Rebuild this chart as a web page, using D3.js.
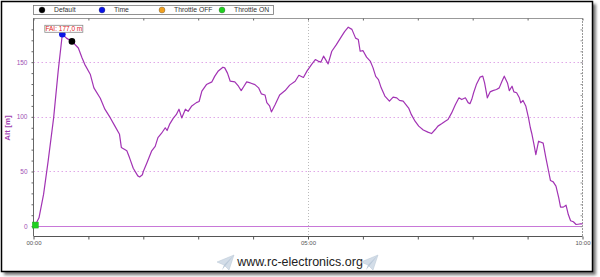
<!DOCTYPE html>
<html lang="en">
  <head>
    <meta charset="UTF-8" />
    <title>Alt</title>
    <style>
      body { margin: 0; background: #fff; }
      text { font-family: "Liberation Sans", Arial, sans-serif; }
    </style>
  </head>
  <body>
    <script src="https://d3js.org/d3.v7.min.js"></script>
    <script>
      // flight log: time [s] and altitude [m]
      const times = [0, 2, 6, 11, 16, 22, 27, 31.5, 36, 42, 49, 53, 56, 62, 66, 73, 78, 84, 89, 94, 96, 102, 105, 109, 114, 116, 119, 120, 124, 129, 133, 136, 140, 144, 146, 149, 153, 156, 159, 162, 166, 169, 173, 178, 181, 184, 189, 195, 198, 202, 207, 209, 212, 215, 220, 224, 227, 230, 233, 237, 242, 246, 249, 253, 255, 258, 260, 264, 269, 275, 280, 286, 290, 295, 299, 304, 308, 311, 314, 317, 322, 326, 331, 337, 340, 344, 348, 352, 355, 357, 360, 364, 368, 371, 374, 377, 380, 384, 389, 393, 397, 400, 404, 410, 413, 417, 421, 426, 431, 435, 439, 442, 446, 450, 453, 457, 461, 465, 468, 472, 475, 477, 479, 481, 484, 488, 491, 493, 496, 499, 502, 506, 509, 512, 514.5, 518, 520, 523, 525, 528, 531, 532.5, 535, 538, 541, 543, 544.5, 547, 549, 552, 554, 557, 560, 563, 565, 568, 571, 574, 576, 579, 582, 584.5, 587, 590, 593, 597, 600];
      const alts = [0, 1, 7.6, 29, 59.5, 99, 142, 175.5, 172, 169, 163, 154, 148, 139, 126.5, 117, 107, 99, 91.5, 84, 72, 69, 62.5, 53, 46, 45, 47, 50, 58, 68.6, 73, 81, 85, 90, 87.5, 93.6, 99, 102, 107, 99, 107, 105, 110, 113, 114, 123.5, 129.5, 132, 137, 142, 145.4, 144.8, 140, 132.6, 132, 128, 124, 128, 132, 131, 129.5, 126.5, 121, 120, 113, 110, 104.5, 111, 120, 124, 129, 132.6, 138, 136, 142, 148, 152.4, 151, 150, 155.5, 148.4, 160, 166, 174, 178, 182, 180, 172, 170.7, 160, 160.6, 154.6, 151, 145, 137, 134, 126.5, 119, 114.3, 118, 117.4, 115, 114.3, 108, 102, 96, 91.5, 88, 86, 84.7, 88.4, 91.5, 93.6, 96, 97.5, 103.6, 111, 117.4, 115.8, 117.4, 113, 112, 116, 122, 129.5, 136.3, 137.2, 131, 117.4, 122.8, 124, 125, 126.5, 132.6, 137.2, 131, 124, 128, 122.8, 122, 117.4, 112.8, 115, 110, 99, 90, 85, 74.6, 65.5, 77.7, 77, 76, 62.5, 50, 41.7, 40.5, 36.6, 26, 17.4, 17.4, 19.2, 10.6, 5, 4, 1.5, 2, 2];

      const legendNames = ["Default", "Time", "Throttle OFF", "Throttle ON"];
      const legendColors = ["#000000", "#0a14e6", "#f0a020", "#20d020"];

      const yTicks = [0, 50, 100, 150];
      const xTickLabels = ["00:00", "05:00", "10:00"];
      const xLabelSecs = [0, 300, 600];

      const faiTime = 31.5;
      const faiText = "FAI: 177,0 m";
      const defaultTime = 42;
      const throttleOnTime = 2;

      const data = times.map((t, i) => ({ t: t, alt: alts[i] }));

      const svg = d3.select("body").append("svg")
        .attr("width", 600).attr("height", 277);

      const defs = svg.append("defs");
      defs.append("filter").attr("id", "shadow")
        .attr("x", "-5%").attr("y", "-5%").attr("width", "110%").attr("height", "110%")
        .append("feGaussianBlur").attr("stdDeviation", 1.5);

      // frame with shadow
      svg.append("rect").attr("x", 4).attr("y", 4).attr("width", 592).attr("height", 271)
        .attr("fill", "#777").attr("filter", "url(#shadow)");
      svg.append("rect").attr("x", 1.5).attr("y", 1.5).attr("width", 591).attr("height", 270)
        .attr("fill", "#fff").attr("stroke", "#000").attr("stroke-width", 1.5);

      const x = d3.scaleLinear().domain([0, 600]).range([33.5, 582.5]);
      const y = d3.scaleLinear().domain([-9, 190.4]).range([236, 18]);

      const chart = svg.append("g");

      // horizontal dotted grid
      chart.append("g").selectAll("line")
        .data(yTicks.filter((d) => d > 0))
        .join("line")
        .attr("x1", x(0)).attr("x2", x(600))
        .attr("y1", (d) => Math.round(y(d)) + 0.5).attr("y2", (d) => Math.round(y(d)) + 0.5)
        .attr("stroke", "#e0a8e8").attr("stroke-dasharray", "1.5,2.5");

      // vertical dotted grid at 05:00
      chart.append("line")
        .attr("x1", Math.round(x(300)) + 0.5).attr("x2", Math.round(x(300)) + 0.5)
        .attr("y1", y(190.4)).attr("y2", y(-9))
        .attr("stroke", "#bbb").attr("stroke-dasharray", "1,2");

      // zero line
      chart.append("line")
        .attr("x1", x(0)).attr("x2", x(600))
        .attr("y1", Math.round(y(0)) + 0.5).attr("y2", Math.round(y(0)) + 0.5)
        .attr("stroke", "#c878d8").attr("stroke-width", 1);

      // axes
      const minorY = d3.range(0, 190, 10);
      const minutes = d3.range(0, 601, 60);

      const leftAxis = d3.axisLeft(y).tickValues(minorY).tickSize(2).tickFormat("");
      chart.append("g").attr("transform", "translate(33.5,0)").call(leftAxis)
        .call((g) => g.select(".domain").attr("stroke", "#666").attr("d", "M0,18V236"))
        .call((g) => g.selectAll(".tick line").attr("stroke", "#666"));

      const rightAxis = d3.axisLeft(y).tickValues(minorY).tickSize(2).tickFormat("");
      chart.append("g").attr("transform", "translate(582.5,0)").call(rightAxis)
        .call((g) => g.select(".domain").attr("stroke", "#999").attr("stroke-dasharray", "2,1").attr("d", "M0,18V236"))
        .call((g) => g.selectAll(".tick line").attr("stroke", "#999"));

      chart.append("g")
        .call(d3.axisLeft(y).tickValues(yTicks).tickSize(0).tickPadding(6))
        .attr("transform", "translate(33.5,0)")
        .call((g) => g.select(".domain").remove())
        .call((g) => g.selectAll("text").attr("fill", "#a050b4").attr("font-size", 6.5));

      const bottomAxis = d3.axisBottom(x).tickValues(minutes).tickSize(3).tickFormat("");
      chart.append("g").attr("transform", "translate(0,236.5)").call(bottomAxis)
        .call((g) => g.select(".domain").attr("stroke", "#555").attr("d", "M33.5,0H582.5"))
        .call((g) => g.selectAll(".tick line").attr("stroke", "#555"));

      chart.append("g").attr("transform", "translate(0,236.5)")
        .call(d3.axisBottom(x).tickValues(xLabelSecs).tickSize(0).tickPadding(4)
          .tickFormat((d, i) => xTickLabels[i]))
        .call((g) => g.select(".domain").remove())
        .call((g) => g.selectAll("text").attr("fill", "#555").attr("font-size", 6));

      const topAxis = d3.axisBottom(x).tickValues(minutes).tickSize(2).tickFormat("");
      chart.append("g").attr("transform", "translate(0,18.5)").call(topAxis)
        .call((g) => g.select(".domain").attr("stroke", "#999").attr("d", "M33.5,0H582.5"))
        .call((g) => g.selectAll(".tick line").attr("stroke", "#666"));

      // y label
      svg.append("text")
        .attr("transform", "translate(10,128) rotate(-90)")
        .attr("text-anchor", "middle")
        .attr("font-size", 8).attr("font-weight", "bold").attr("fill", "#a040b0")
        .text("Alt [m]");

      // altitude line
      const line = d3.line().x((d) => x(d.t)).y((d) => y(d.alt));
      chart.append("path").datum(data)
        .attr("fill", "none").attr("stroke", "#a233b4").attr("stroke-width", 1.2)
        .attr("stroke-linejoin", "round")
        .attr("d", line);

      const altAt = (t) => {
        const i = d3.bisector((d) => d.t).left(data, t);
        return data[Math.min(i, data.length - 1)].alt;
      };

      // markers
      chart.append("rect")
        .attr("x", x(throttleOnTime) - 3).attr("y", y(altAt(throttleOnTime)) - 3)
        .attr("width", 6).attr("height", 6)
        .attr("fill", legendColors[3]).attr("stroke", "#2a2").attr("stroke-width", 0.5);
      chart.append("circle")
        .attr("cx", x(defaultTime)).attr("cy", y(altAt(defaultTime)))
        .attr("r", 3.3).attr("fill", legendColors[0]);
      chart.append("circle")
        .attr("cx", x(faiTime)).attr("cy", y(altAt(faiTime)))
        .attr("r", 3.3).attr("fill", legendColors[1]);

      // FAI label
      const fx = x(faiTime), fy = y(altAt(faiTime));
      const fai = chart.append("g").attr("transform", `translate(${fx},${fy})`);
      fai.append("rect").attr("x", -17.5).attr("y", -9).attr("width", 38).attr("height", 7)
        .attr("fill", "#fff").attr("stroke", "#888").attr("stroke-width", 0.8);
      fai.append("text").attr("x", 1.5).attr("y", -3.1).attr("text-anchor", "middle")
        .attr("font-size", 6.5).attr("fill", "#e02020").text(faiText);

      // legend
      const legend = svg.append("g");
      legend.append("rect").attr("x", 33.5).attr("y", 5.5).attr("width", 240).attr("height", 9)
        .attr("fill", "#fff").attr("stroke", "#777").attr("stroke-width", 0.8);
      const items = legend.selectAll("g.item").data(legendNames).join("g")
        .attr("transform", (d, i) => `translate(${42 + i * 60},10)`);
      items.append("circle").attr("r", 3).attr("fill", (d, i) => legendColors[i])
        .attr("stroke", "#333").attr("stroke-width", 0.3);
      items.append("text").attr("x", 12).attr("y", 2.3).attr("font-size", 6.8).attr("fill", "#333")
        .text((d) => d);

      // footer
      svg.append("text").attr("x", 300).attr("y", 266).attr("text-anchor", "middle")
        .attr("font-size", 12.5).attr("fill", "#222").text("www.rc-electronics.org");

      [217, 361].forEach((px) => {
        const g = svg.append("g").attr("transform", `translate(${px},255)`);
        g.append("path").attr("d", "M0,7 L17,0 L12,15 L7,10 Z").attr("fill", "#d3dde8").attr("stroke", "#b8c6d4").attr("stroke-width", 0.5);
        g.append("path").attr("d", "M7,10 L17,0 L5,15 Z").attr("fill", "#b9c8d8");
      });
    </script>
  </body>
</html>
